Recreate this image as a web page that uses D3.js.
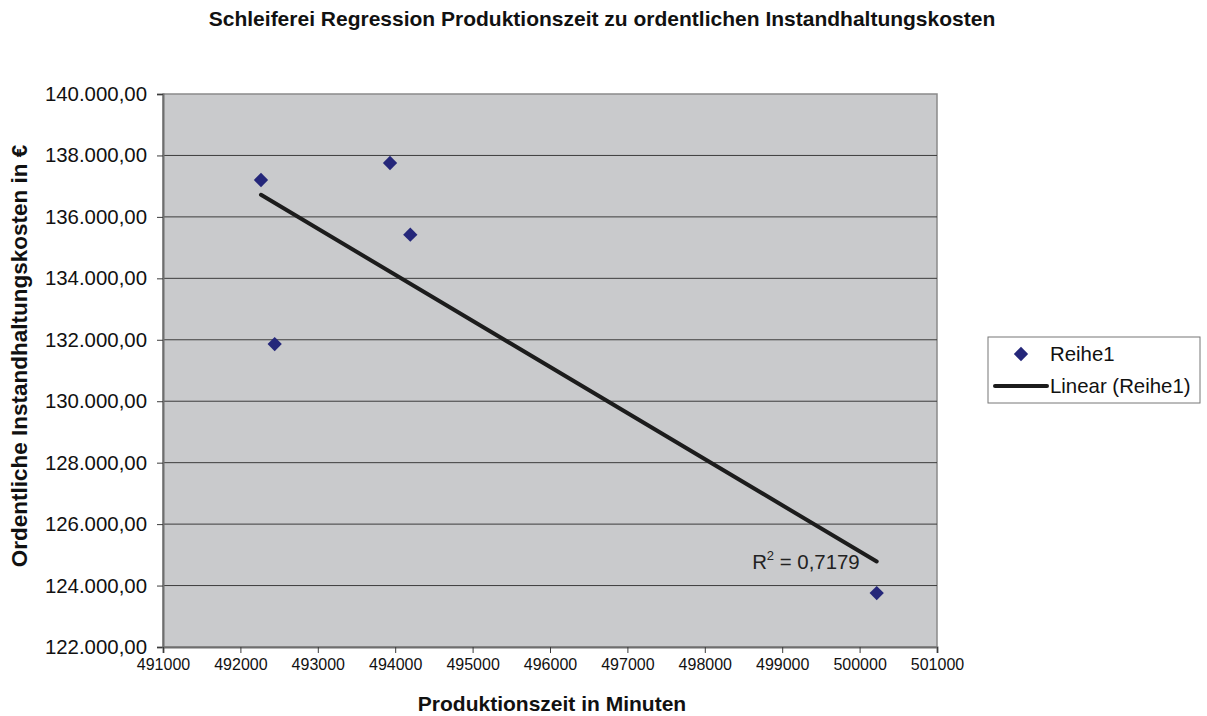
<!DOCTYPE html>
<html>
<head>
<meta charset="utf-8">
<script src="https://cdn.jsdelivr.net/npm/d3@7"></script>
<style>
  html, body { margin: 0; padding: 0; background: #ffffff; }
  svg { display: block; font-family: "Liberation Sans", Arial, sans-serif; }
</style>
</head>
<body>
<svg id="chart" width="1207" height="716"></svg>
<script>
// Production time (minutes) vs. regular maintenance costs (EUR)
const productionMinutes = [492266, 493933, 494195, 492443, 500221];
const maintenanceCosts  = [137201, 137754, 135420, 131862, 123757];
const xTicks = [491000, 492000, 493000, 494000, 495000, 496000, 497000, 498000, 499000, 500000, 501000];
const yTicks = [122000, 124000, 126000, 128000, 130000, 132000, 134000, 136000, 138000, 140000];
const rSquaredLabel = "0,7179";

const svg = d3.select("#chart");
const plot = { left: 163, top: 94, right: 937, bottom: 647 };

const x = d3.scaleLinear().domain([491000, 501000]).range([plot.left, plot.right]);
const y = d3.scaleLinear().domain([122000, 140000]).range([plot.bottom, plot.top]);

// German number format: 140.000,00
const de = d3.formatLocale({ decimal: ",", thousands: ".", grouping: [3], currency: ["", " €"] });
const fmtY = de.format(",.2f");

// plot area
svg.append("rect")
  .attr("x", plot.left).attr("y", plot.top)
  .attr("width", plot.right - plot.left).attr("height", plot.bottom - plot.top)
  .attr("fill", "#c9cacc").attr("stroke", "#8a8a8a").attr("stroke-width", 1.5);

// horizontal gridlines
svg.append("g").selectAll("line")
  .data(yTicks.filter(d => d > 122000 && d < 140000))
  .join("line")
  .attr("x1", plot.left).attr("x2", plot.right)
  .attr("y1", d => y(d)).attr("y2", d => y(d))
  .attr("stroke", "#3c3c3c").attr("stroke-width", 1);

// y axis
const yAxis = svg.append("g")
  .attr("transform", `translate(${plot.left},0)`)
  .call(d3.axisLeft(y).tickValues(yTicks).tickFormat(fmtY).tickSize(6).tickPadding(10));
yAxis.select(".domain").attr("stroke", "#6e6e6e").attr("stroke-width", 2);
yAxis.selectAll(".tick line").attr("stroke", "#3c3c3c");
yAxis.selectAll(".tick text").attr("font-size", 20.4).attr("fill", "#111")
  .attr("font-family", "Liberation Sans, Arial, sans-serif");

// x axis
const xAxis = svg.append("g")
  .attr("transform", `translate(0,${plot.bottom})`)
  .call(d3.axisBottom(x).tickValues(xTicks).tickFormat(d3.format("d")).tickSize(6).tickPadding(6));
xAxis.select(".domain").attr("stroke", "#6e6e6e").attr("stroke-width", 2);
xAxis.selectAll(".tick line").attr("stroke", "#3c3c3c");
xAxis.selectAll(".tick text").attr("font-size", 16).attr("fill", "#111")
  .attr("font-family", "Liberation Sans, Arial, sans-serif");

// linear regression trendline
const n = productionMinutes.length;
const mx = d3.mean(productionMinutes), my = d3.mean(maintenanceCosts);
let sxy = 0, sxx = 0;
for (let i = 0; i < n; i++) {
  sxy += (productionMinutes[i] - mx) * (maintenanceCosts[i] - my);
  sxx += (productionMinutes[i] - mx) ** 2;
}
const slope = sxy / sxx, intercept = my - slope * mx;
const [xmin, xmax] = d3.extent(productionMinutes);
svg.append("line")
  .attr("x1", x(xmin)).attr("y1", y(intercept + slope * xmin))
  .attr("x2", x(xmax)).attr("y2", y(intercept + slope * xmax))
  .attr("stroke", "#1c1c1c").attr("stroke-width", 4).attr("stroke-linecap", "round");

// data points (diamonds)
const diamond = d3.symbol().type(d3.symbolSquare).size(102);
svg.append("g").selectAll("path")
  .data(productionMinutes.map((v, i) => [v, maintenanceCosts[i]]))
  .join("path")
  .attr("d", diamond)
  .attr("transform", d => `translate(${x(d[0])},${y(d[1])}) rotate(45)`)
  .attr("fill", "#25277a");

// R² label near end of trendline
const rText = svg.append("text")
  .attr("x", x(xmax) - 17).attr("y", y(intercept + slope * xmax) + 8)
  .attr("text-anchor", "end").attr("font-size", 20.4).attr("fill", "#222");
rText.append("tspan").text("R");
rText.append("tspan").text("2").attr("font-size", 13).attr("dy", -9);
rText.append("tspan").text(" = " + rSquaredLabel).attr("dy", 9);

// title
svg.append("text")
  .attr("x", 602).attr("y", 26).attr("text-anchor", "middle")
  .attr("font-size", 21).attr("font-weight", "bold").attr("fill", "#111")
  .text("Schleiferei Regression Produktionszeit zu ordentlichen Instandhaltungskosten");

// axis titles
svg.append("text")
  .attr("x", 552).attr("y", 711).attr("text-anchor", "middle")
  .attr("font-size", 21).attr("font-weight", "bold").attr("fill", "#111")
  .text("Produktionszeit in Minuten");

svg.append("text")
  .attr("transform", "translate(27,356) rotate(-90)")
  .attr("text-anchor", "middle")
  .attr("font-size", 22.5).attr("font-weight", "bold").attr("fill", "#111")
  .text("Ordentliche Instandhaltungskosten in €");

// legend
const legend = svg.append("g").attr("transform", "translate(988,337)");
legend.append("rect").attr("width", 212).attr("height", 66)
  .attr("fill", "#fff").attr("stroke", "#777").attr("stroke-width", 1);
legend.append("path").attr("d", diamond)
  .attr("transform", "translate(33,17) rotate(45)").attr("fill", "#25277a");
legend.append("text").attr("x", 62).attr("y", 24).attr("font-size", 20.4).attr("fill", "#111").text("Reihe1");
legend.append("line").attr("x1", 7).attr("x2", 59).attr("y1", 49).attr("y2", 49)
  .attr("stroke", "#1c1c1c").attr("stroke-width", 4).attr("stroke-linecap", "round");
legend.append("text").attr("x", 62).attr("y", 56).attr("font-size", 20.4).attr("fill", "#111").text("Linear (Reihe1)");
</script>
</body>
</html>
